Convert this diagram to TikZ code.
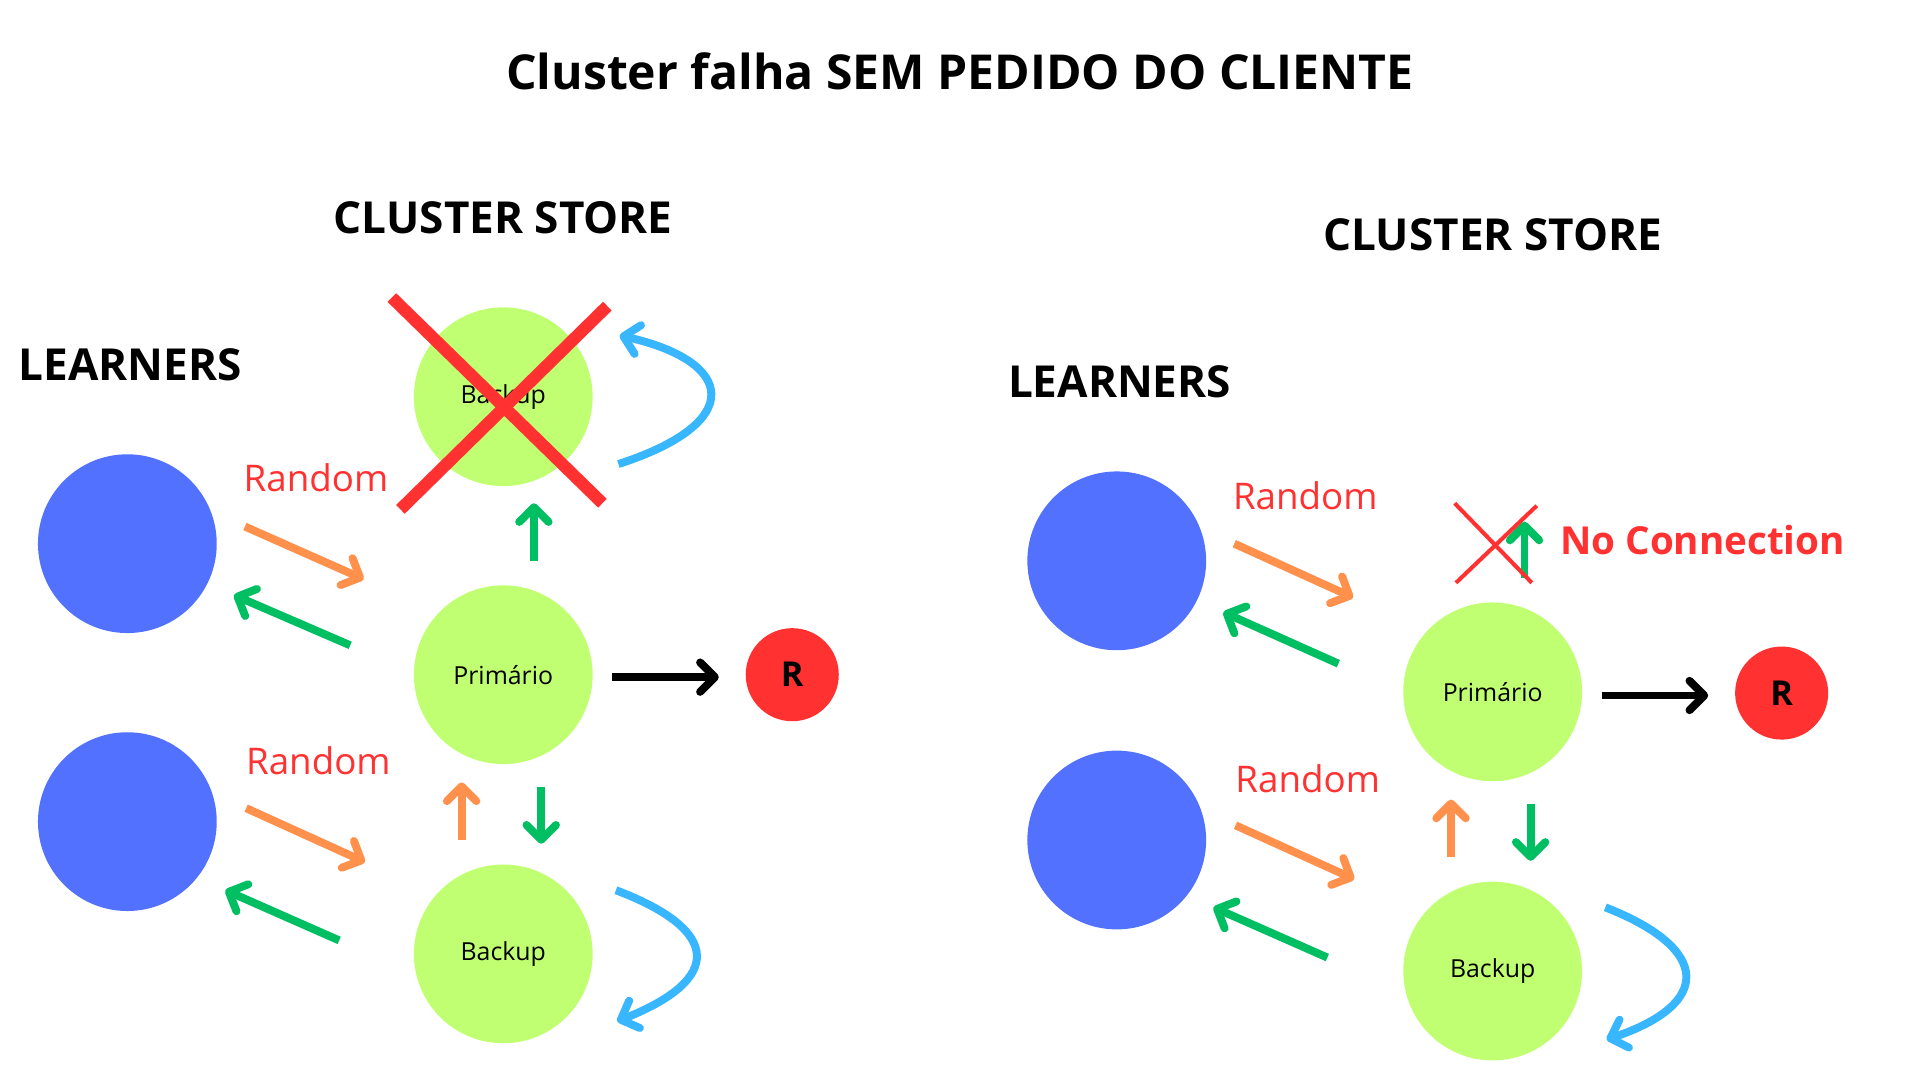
\documentclass[tikz,border=0pt]{standalone}
\usepackage{fontspec}
\setmainfont{Open Sans}
\usetikzlibrary{arrows.meta}
\definecolor{lblue}{HTML}{5271FF}
\definecolor{lgreen}{HTML}{C1FF72}
\definecolor{cred}{HTML}{FF3131}
\definecolor{corange}{HTML}{FF914D}
\definecolor{cgreen}{HTML}{00BF63}
\definecolor{cblue}{HTML}{38B6FF}
\tikzset{
  learner/.style={circle,fill=lblue,minimum size=146pt,inner sep=0pt},
  server/.style={circle,fill=lgreen,minimum size=146pt,inner sep=0pt,font=\fontsize{20.3}{24}\selectfont},
  rnode/.style={circle,fill=cred,minimum size=76pt,inner sep=0pt,font=\fontsize{28}{32}\selectfont\bfseries},
  head/.style={font=\fontsize{36}{42}\selectfont\bfseries,inner sep=0pt},
  rand/.style={font=\fontsize{30}{36}\selectfont,text=cred,inner sep=0pt},
  arr/.style={line width=6.5pt,line cap=butt,-{Straight Barb[round,length=12pt,width=24pt,line width=6.5pt]}},
  oarr/.style={arr,draw=corange},
  garr/.style={arr,draw=cgreen},
  barr/.style={arr,draw=cblue},
  karr/.style={arr,draw=black},
}
\begin{document}
\begin{tikzpicture}[x=1pt,y=-1pt]
\useasboundingbox (0,0) rectangle (1568,882);
\node[font=\fontsize{39.3}{46}\selectfont\bfseries] (title) at (784,58) {Cluster falha SEM PEDIDO DO CLIENTE};

% ---------- left panel ----------
\node[head] (cs1) at (411,178) {CLUSTER STORE};
\node[head,anchor=west] (le1) at (15,298) {LEARNERS};
\node[learner] (l1a) at (104,444) {};
\node[learner] (l1b) at (104,671) {};
\node[server] (b1top) at (411,324) {Backup};
\node[server] (p1) at (411,551) {Primário};
\node[server] (b1bot) at (411,779) {Backup};
\node[rnode] (r1) at (647,551) {R};
\node[rand] (rd1a) at (258,390) {Random};
\node[rand] (rd1b) at (260,621) {Random};

\coordinate (x1a) at (320,243); \coordinate (x1b) at (492,411);
\coordinate (x1c) at (496,250); \coordinate (x1d) at (327,416);
\draw[cred,line width=10pt] (x1a) -- (x1b);
\draw[cred,line width=10pt] (x1c) -- (x1d);

\coordinate (oa1s) at (200,430); \coordinate (oa1e) at (297,473);
\draw[oarr] (oa1s) -- (oa1e);
\coordinate (ga1s) at (286,527); \coordinate (ga1e) at (191,486);
\draw[garr] (ga1s) -- (ga1e);
\coordinate (oa2s) at (201,660); \coordinate (oa2e) at (298,704);
\draw[oarr] (oa2s) -- (oa2e);
\coordinate (ga2s) at (277,768); \coordinate (ga2e) at (184,727);
\draw[garr] (ga2s) -- (ga2e);
\coordinate (gu1s) at (436,458); \coordinate (gu1e) at (436,411);
\draw[garr] (gu1s) -- (gu1e);
\coordinate (ou1s) at (377,686); \coordinate (ou1e) at (377,639);
\draw[oarr] (ou1s) -- (ou1e);
\coordinate (gd1s) at (442,643); \coordinate (gd1e) at (442,689);
\draw[garr] (gd1s) -- (gd1e);
\coordinate (ka1s) at (500,553); \coordinate (ka1e) at (587,553);
\draw[karr] (ka1s) -- (ka1e);
\coordinate (bt1s) at (505,379); \coordinate (bt1e) at (506,274);
\draw[barr] (bt1s) .. controls (610,345) and (600,295) .. (bt1e);
\coordinate (bb1s) at (503,727); \coordinate (bb1e) at (504,834);
\draw[barr] (bb1s) .. controls (590,760) and (590,800) .. (bb1e);

% ---------- right panel ----------
\node[head] (cs2) at (1219,192) {CLUSTER STORE};
\node[head,anchor=west] (le2) at (823,312) {LEARNERS};
\node[learner] (l2a) at (912,458) {};
\node[learner] (l2b) at (912,686) {};
\node[server] (p2) at (1219,565) {Primário};
\node[server] (b2bot) at (1219,793) {Backup};
\node[rnode] (r2) at (1455,566) {R};
\node[rand] (rd2a) at (1066,405) {Random};
\node[rand] (rd2b) at (1068,636) {Random};
\node[rand,font=\fontsize{31.5}{36}\selectfont\bfseries,anchor=west] (nc) at (1274,441) {No Connection};

\coordinate (oa3s) at (1008,444); \coordinate (oa3e) at (1105,488);
\draw[oarr] (oa3s) -- (oa3e);
\coordinate (ga3s) at (1093,542); \coordinate (ga3e) at (999,500);
\draw[garr] (ga3s) -- (ga3e);
\coordinate (oa4s) at (1009,674); \coordinate (oa4e) at (1106,718);
\draw[oarr] (oa4s) -- (oa4e);
\coordinate (ga4s) at (1084,782); \coordinate (ga4e) at (991,741);
\draw[garr] (ga4s) -- (ga4e);
\coordinate (gu2s) at (1245,472); \coordinate (gu2e) at (1245,426);
\draw[garr] (gu2s) -- (gu2e);
\coordinate (ou2s) at (1185,700); \coordinate (ou2e) at (1185,653);
\draw[oarr] (ou2s) -- (ou2e);
\coordinate (gd2s) at (1250,657); \coordinate (gd2e) at (1250,703);
\draw[garr] (gd2s) -- (gd2e);
\coordinate (ka2s) at (1308,568); \coordinate (ka2e) at (1395,568);
\draw[karr] (ka2s) -- (ka2e);
\coordinate (bb2s) at (1311,741); \coordinate (bb2e) at (1312,849);
\draw[barr] (bb2s) .. controls (1398,775) and (1398,820) .. (bb2e);

\coordinate (x2a) at (1188,411); \coordinate (x2b) at (1251,476);
\coordinate (x2c) at (1255,413); \coordinate (x2d) at (1189,476);
\draw[cred,line width=3.3pt] (x2a) -- (x2b);
\draw[cred,line width=3.3pt] (x2c) -- (x2d);
\end{tikzpicture}
\end{document}
